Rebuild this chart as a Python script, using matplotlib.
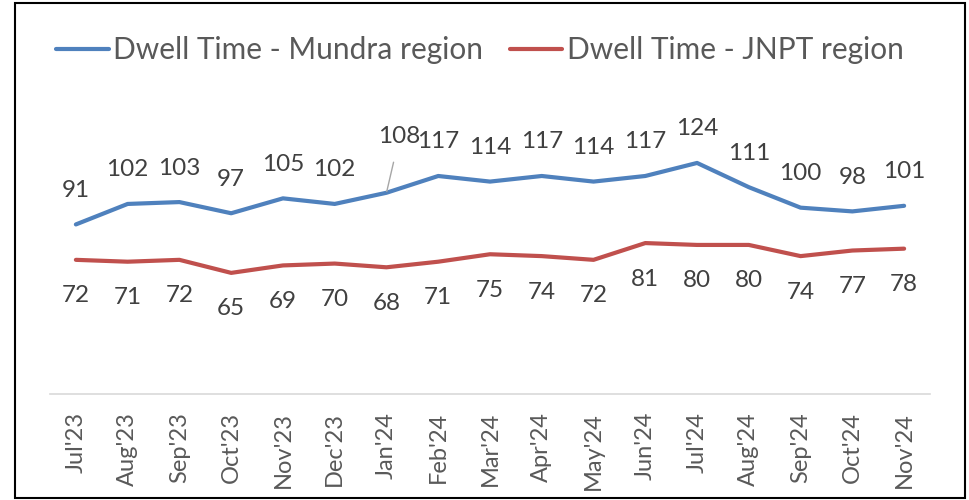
import matplotlib
matplotlib.use("Agg")
import matplotlib.pyplot as plt
from matplotlib.patches import Rectangle

plt.rcParams['font.family'] = ['Lato', 'DejaVu Sans']

months = ["Jul'23", "Aug'23", "Sep'23", "Oct'23", "Nov'23", "Dec'23", "Jan'24", "Feb'24",
          "Mar'24", "Apr'24", "May'24", "Jun'24", "Jul'24", "Aug'24", "Sep'24", "Oct'24", "Nov'24"]
mundra = [91, 102, 103, 97, 105, 102, 108, 117, 114, 117, 114, 117, 124, 111, 100, 98, 101]
jnpt = [72, 71, 72, 65, 69, 70, 68, 71, 75, 74, 72, 81, 80, 80, 74, 77, 78]

blue = '#4F81BD'
red = '#C0504D'
label_col = '#404040'
tick_col = '#595959'

fig = plt.figure(figsize=(9.69, 5), dpi=100)
ax = fig.add_axes([50 / 969, 106 / 500, 880 / 969, 279.5 / 500])

x = list(range(len(months)))
ax.plot(x, mundra, color=blue, lw=3, solid_capstyle='round', solid_joinstyle='round',
        label='Dwell Time - Mundra region')
ax.plot(x, jnpt, color=red, lw=3, solid_capstyle='round', solid_joinstyle='round',
        label='Dwell Time - JNPT region')

# data labels: above for Mundra, below for JNPT
for i, v in enumerate(mundra):
    if months[i] == "Jan'24":
        # moved label with leader line
        ax.annotate(str(v), (i, v), xytext=(13, 56), textcoords='offset pixels',
                    ha='center', va='center', fontsize=17.5, color=label_col,
                    arrowprops=dict(arrowstyle='-', color='#A6A6A6', lw=1,
                                    shrinkA=9, shrinkB=1))
    else:
        ax.annotate(str(v), (i, v), xytext=(0, 34), textcoords='offset pixels',
                    ha='center', va='center', fontsize=17.5, color=label_col)
for i, v in enumerate(jnpt):
    ax.annotate(str(v), (i, v), xytext=(0, -36), textcoords='offset pixels',
                ha='center', va='center', fontsize=17.5, color=label_col)

ax.set_xlim(-0.5, len(months) - 0.5)
ax.set_ylim(0, 150)
ax.set_xticks(x)
ax.set_xticklabels(months, rotation=90, fontsize=17, color=tick_col)
ax.tick_params(axis='x', length=0, pad=13)
ax.set_yticks([])
for s in ['top', 'right', 'left']:
    ax.spines[s].set_visible(False)
ax.spines['bottom'].set_color('#D9D9D9')
ax.spines['bottom'].set_linewidth(1.2)

leg = fig.legend(loc='center', bbox_to_anchor=(480 / 969, 1 - 50 / 500), ncol=2, frameon=False,
                 fontsize=21.5, handlelength=1.75, handletextpad=0.15, columnspacing=0.9)
for t in leg.get_texts():
    t.set_color(tick_col)

# outer border
fig.patches.append(Rectangle((15 / 969, 2 / 500), 950 / 969, 495 / 500, transform=fig.transFigure,
                             fill=False, edgecolor='black', lw=1.5))

fig.savefig('out.png', dpi=100)
